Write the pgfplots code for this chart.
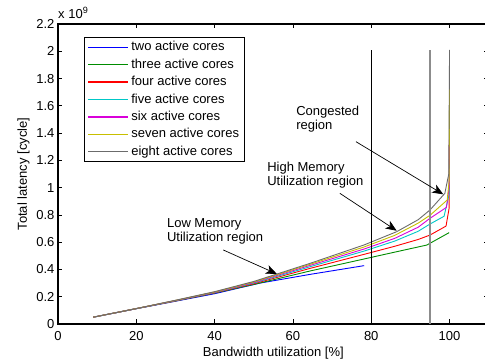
\documentclass[border=0pt]{standalone}
\usepackage{pgfplots}
\pgfplotsset{compat=1.18}
\usepackage{fontspec}
\setmainfont{Liberation Sans}
\usetikzlibrary{arrows.meta}
\definecolor{cblue}{rgb}{0,0,1}
\definecolor{cgreen}{rgb}{0,0.55,0}
\definecolor{cred}{rgb}{1,0,0}
\definecolor{ccyan}{rgb}{0,0.78,0.78}
\definecolor{cmag}{rgb}{0.85,0,0.85}
\definecolor{cyel}{rgb}{0.78,0.75,0}
\definecolor{cgray}{rgb}{0.42,0.42,0.42}
\begin{document}
\begin{tikzpicture}
\begin{axis}[
  scale only axis,
  width=430.7bp, height=300bp,
  xmin=0, xmax=110, ymin=0, ymax=2.2,
  xtick={0,20,40,60,80,100},
  ytick={0,0.2,0.4,0.6,0.8,1,1.2,1.4,1.6,1.8,2,2.2},
  yticklabels={0,0.2,0.4,0.6,0.8,1,1.2,1.4,1.6,1.8,2,2.2},
  tick align=inside,
  major tick length=4.5bp,
  axis line style={line width=1.1bp},
  every tick/.style={black, line width=0.8bp},
  font=\fontsize{13bp}{15bp}\selectfont,
  /pgf/number format/assume math mode=true,
  ticklabel style={font=\fontsize{13bp}{15bp}\selectfont},
  xticklabel style={anchor=base, yshift=-16bp},
  xlabel={Bandwidth utilization [\%]},
  ylabel={Total latency [cycle]},
  xlabel style={at={(axis description cs:0.5,-0.109)}, anchor=base},
  ylabel style={at={(axis description cs:-0.072,0.5)}, anchor=base, rotate=0},
  legend style={at={(axis description cs:0.0604,0.9557)}, anchor=north west,
    draw=black, line width=1.1bp, fill=white,
    font=\fontsize{13bp}{15bp}\selectfont,
    inner xsep=3bp, inner ysep=1bp, row sep=0bp,
    nodes={inner ysep=2bp, inner xsep=2.5bp, text height=10bp, text depth=3.4bp}},
  legend cell align=left,
  legend image code/.code={\path[#1] (0bp,0bp) -- (0bp,0bp); \draw[#1, line width=1.3bp, draw=.] (0bp,0.25bp) -- (40bp,0.25bp);},
]
\addplot[cblue, line width=0.9bp] coordinates {(9,0.05) (20,0.112) (30,0.167) (40,0.222) (51.6,0.300) (64.4,0.364) (78.2,0.428)};
\addlegendentry{two active cores}
\addplot[cgreen, line width=0.9bp] coordinates {(9,0.05) (20,0.113) (30,0.169) (40,0.227) (50,0.29) (64.4,0.389) (78.2,0.477) (86,0.527) (94.2,0.579) (99.9,0.67)};
\addlegendentry{three active cores}
\addplot[cred, line width=0.9bp] coordinates {(9,0.05) (20,0.113) (30,0.17) (40,0.229) (50,0.295) (64.4,0.408) (78.2,0.511) (86,0.57) (92,0.62) (95,0.652) (99.1,0.718) (99.9,0.85) (100,1.47)};
\addlegendentry{four active cores}
\addplot[ccyan, line width=0.9bp] coordinates {(9,0.05) (20,0.113) (30,0.171) (40,0.231) (50,0.30) (64.4,0.42) (78.2,0.535) (86,0.608) (92,0.68) (95,0.733) (98.6,0.79) (99.9,0.95) (100,1.3)};
\addlegendentry{five active cores}
\addplot[cmag, line width=0.9bp] coordinates {(9,0.05) (20,0.113) (30,0.172) (40,0.233) (50,0.304) (64.4,0.43) (78.2,0.55) (86,0.628) (92,0.71) (95,0.775) (99.2,0.855) (99.9,1.0) (100,1.47)};
\addlegendentry{six active cores}
\addplot[cyel, line width=0.9bp] coordinates {(9,0.05) (20,0.113) (30,0.173) (40,0.235) (50,0.308) (64.4,0.438) (78.2,0.565) (86,0.65) (92,0.74) (95,0.797) (99.4,0.909) (99.9,1.05) (100,1.74)};
\addlegendentry{seven active cores}
\addplot[cgray, line width=0.9bp] coordinates {(9,0.05) (20,0.113) (30,0.174) (40,0.237) (50,0.312) (64.4,0.445) (78.2,0.58) (86.5,0.677) (92,0.765) (95,0.836) (98.8,0.958) (99.8,1.1) (100,2.01)};
\addlegendentry{eight active cores}
\addplot[black, line width=0.8bp, forget plot] coordinates {(80,0) (80,2.01)};
\addplot[gray!90, line width=1.4bp, forget plot] coordinates {(95,0) (95,2.01)};
\draw[black, line width=0.7bp, -{Stealth[length=11bp,width=9bp,inset=3bp]}] (axis cs:76.1,1.337) -- (axis cs:98.4,0.951);
\draw[black, line width=0.7bp, -{Stealth[length=11bp,width=9bp,inset=3bp]}] (axis cs:72.0,0.958) -- (axis cs:86.5,0.684);
\draw[black, line width=0.7bp, -{Stealth[length=11bp,width=9bp,inset=3bp]}] (axis cs:42.2,0.543) -- (axis cs:55.9,0.367);
\node[anchor=west, align=left, inner sep=0pt, font=\fontsize{13bp}{14bp}\selectfont] at (axis cs:60.8,1.50) {Congested\\region};
\node[anchor=west, align=left, inner sep=0pt, font=\fontsize{13bp}{14bp}\selectfont] at (axis cs:53.4,1.092) {High Memory\\Utilization region};
\node[anchor=west, align=left, inner sep=0pt, font=\fontsize{13bp}{14bp}\selectfont] at (axis cs:27.8,0.678) {Low Memory\\Utilization region};
\coordinate (SW) at (rel axis cs:0,0);
\coordinate (NE) at (rel axis cs:1,1);
\coordinate (NW) at (rel axis cs:0,1);
\end{axis}
\node[anchor=base west, inner sep=0pt, font=\fontsize{13bp}{15bp}\selectfont] at ([yshift=5.7bp]NW) {x 10$^{\mathrm{9}}$};
\pgfresetboundingbox
\path[use as bounding box] ([xshift=-58bp,yshift=-38bp]SW) rectangle ([xshift=-3.7bp,yshift=24bp]NE);
\end{tikzpicture}
\end{document}
